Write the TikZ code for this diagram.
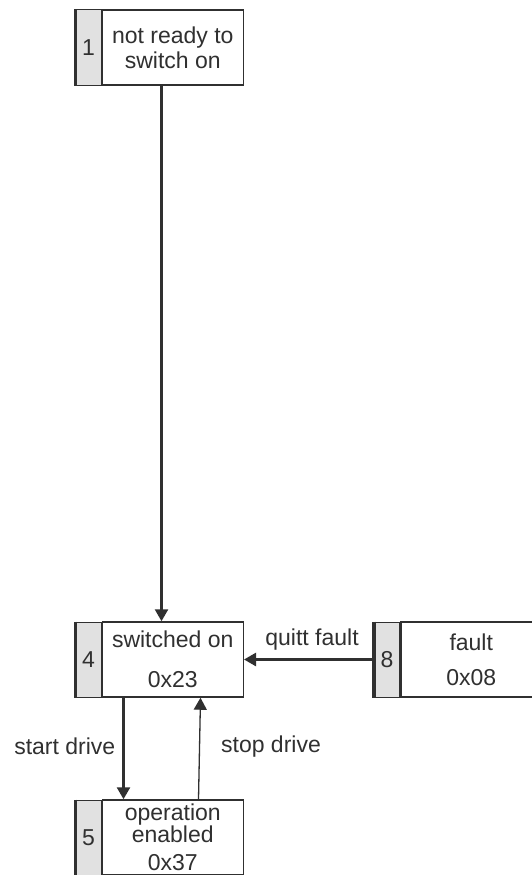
\documentclass[tikz,border=0pt]{standalone}
\usepackage{fontspec}
\setmainfont{Liberation Sans}
\usetikzlibrary{arrows.meta}
\usetikzlibrary{positioning}
\definecolor{lineGray}{HTML}{303030}
\definecolor{stripGray}{HTML}{E1E1E1}
\tikzset{numStrip/.style={fill=stripGray, draw=lineGray, line width=1pt, minimum width=25pt, minimum height=75pt, inner sep=0pt, font=\fontsize{23}{26}\selectfont, text=lineGray}}
\tikzset{stateBox/.style={fill=white, draw=lineGray, line width=1.5pt, minimum width=141pt, minimum height=75pt, inner sep=0pt, align=center, text=lineGray}}
\tikzset{transition/.style={draw=lineGray, line width=2.5pt, -{Triangle[length=12pt,width=13pt]}}}
\tikzset{thinTransition/.style={draw=lineGray, line width=1.3pt, -{Triangle[length=12pt,width=13pt]}}}
\tikzset{edgeLabel/.style={font=\fontsize{23}{26}\selectfont, text=lineGray, inner sep=0pt}}

\begin{document}
\begin{tikzpicture}[x=1pt,y=-1pt]
\useasboundingbox (0,0) rectangle (532,875);

% states
\node[numStrip] (n1) at (88.5,47.5) {1};
\node[stateBox, right=0pt of n1, font=\fontsize{23}{25}\selectfont] (s1) {not ready to\\switch on};
\node[numStrip] (n4) at (88.5,659.5) {4};
\node[stateBox, right=0pt of n4, font=\fontsize{23}{40}\selectfont] (s4) {switched on\\0x23};
\node[numStrip] (n5) at (88.5,837.5) {5};
\node[stateBox, right=0pt of n5, font=\fontsize{23}{21}\selectfont] (s5) {operation\\enabled\\[7pt]0x37};
\node[numStrip] (n8) at (387,659.5) {8};
\node[stateBox, right=0pt of n8, font=\fontsize{23}{35}\selectfont, text width=120pt] (s8) {fault\\0x08};

% thick left bars
\foreach \n in {n1,n4,n5,n8}
  \draw[lineGray, line width=3.5pt] (\n.north west) -- (\n.south west);

% transitions
\draw[transition] ([xshift=60pt]s1.south west) -- ([xshift=60pt]s4.north west);
\draw[transition] (n8.west) -- (s4.east) node[edgeLabel, midway, above=8pt, xshift=3pt] {quitt fault};
\draw[transition] ([xshift=22pt]s4.south west) -- ([xshift=22pt]s5.north west) node[edgeLabel, midway, left=7pt, yshift=2pt] {start drive};
\draw[thinTransition] ([xshift=97pt]s5.north west) -- ([xshift=99pt]s4.south west) node[edgeLabel, midway, right=21pt, yshift=2pt] {stop drive};
\end{tikzpicture}
\end{document}
